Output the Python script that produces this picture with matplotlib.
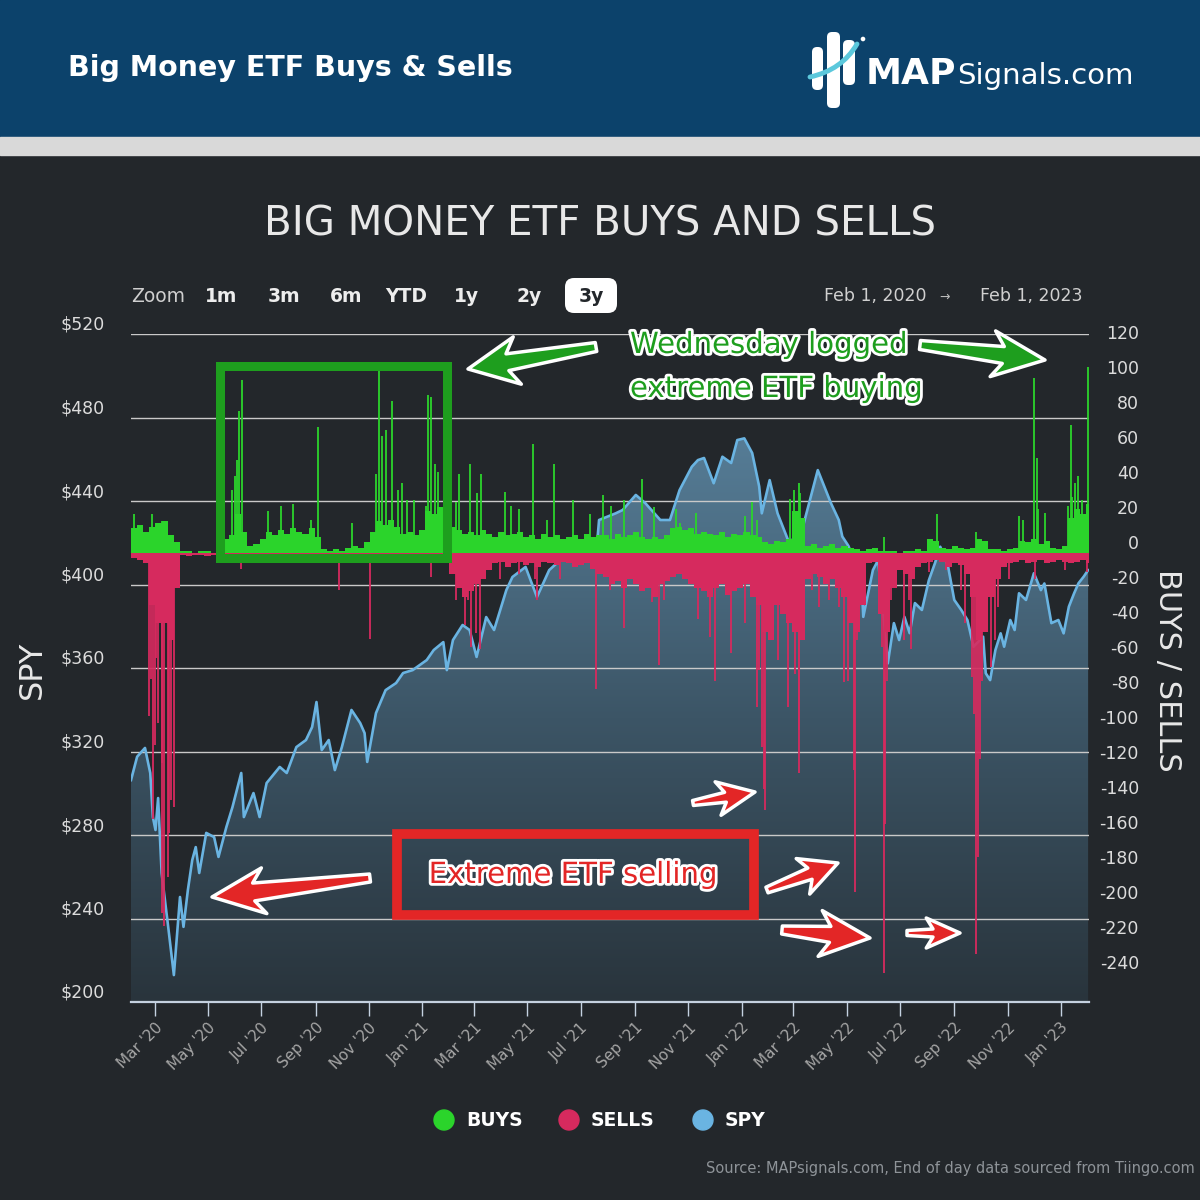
import numpy as np
import pandas as pd
import matplotlib
matplotlib.use("Agg")
import matplotlib.pyplot as plt
import matplotlib.dates as mdates
import matplotlib.patheffects as pe
from matplotlib.patches import Rectangle, FancyBboxPatch, Polygon, Circle, PathPatch
from matplotlib.path import Path
from matplotlib.colors import LinearSegmentedColormap

# -----------------------------
# Data
# -----------------------------
spy_dates = [
    "2020-02-03", "2020-02-10", "2020-02-19", "2020-02-25", "2020-02-28", "2020-03-02",
    "2020-03-05", "2020-03-09", "2020-03-16", "2020-03-23", "2020-03-30", "2020-04-03",
    "2020-04-08", "2020-04-13", "2020-04-17", "2020-04-21", "2020-04-29", "2020-05-08",
    "2020-05-13", "2020-05-22", "2020-05-29", "2020-06-08", "2020-06-11", "2020-06-22",
    "2020-06-29", "2020-07-07", "2020-07-22", "2020-07-30", "2020-08-10", "2020-08-21",
    "2020-08-28", "2020-09-02", "2020-09-08", "2020-09-16", "2020-09-23", "2020-10-01",
    "2020-10-12", "2020-10-22", "2020-10-27", "2020-10-30", "2020-11-09", "2020-11-20",
    "2020-12-02", "2020-12-10", "2020-12-21", "2021-01-06", "2021-01-14", "2021-01-25",
    "2021-01-29", "2021-02-05", "2021-02-16", "2021-02-24", "2021-03-04", "2021-03-15",
    "2021-03-24", "2021-04-07", "2021-04-14", "2021-04-29", "2021-05-12", "2021-05-26",
    "2021-06-14", "2021-07-07", "2021-07-19", "2021-07-22", "2021-08-10", "2021-08-18",
    "2021-09-02", "2021-09-13", "2021-09-30", "2021-10-11", "2021-10-22", "2021-11-05",
    "2021-11-12", "2021-11-19", "2021-11-30", "2021-12-10", "2021-12-20", "2021-12-27",
    "2022-01-04", "2022-01-13", "2022-01-21", "2022-01-24", "2022-02-02", "2022-02-11",
    "2022-02-23", "2022-03-08", "2022-03-29", "2022-04-13", "2022-04-22", "2022-04-26",
    "2022-05-03", "2022-05-18", "2022-05-20", "2022-05-31", "2022-06-06", "2022-06-13",
    "2022-06-17", "2022-06-24", "2022-06-30", "2022-07-06", "2022-07-12", "2022-07-18",
    "2022-07-26", "2022-08-03", "2022-08-10", "2022-08-16", "2022-08-25", "2022-09-01",
    "2022-09-09", "2022-09-16", "2022-09-23", "2022-10-04", "2022-10-07", "2022-10-12",
    "2022-10-18", "2022-10-24", "2022-10-28", "2022-11-04", "2022-11-09", "2022-11-14",
    "2022-11-22", "2022-12-01", "2022-12-09", "2022-12-13", "2022-12-21", "2022-12-29",
    "2023-01-04", "2023-01-10", "2023-01-16", "2023-01-21", "2023-01-27", "2023-02-01",
]
spy_values = [
    306.3, 317.5, 321.7, 309.7, 288.6, 282.4,
    297.7, 261.8, 237.8, 212.9, 250.3, 236.0,
    253.6, 268.0, 274.2, 261.8, 281.0, 279.0,
    269.5, 283.8, 293.4, 309.7, 288.6, 300.1,
    288.6, 304.9, 312.6, 309.7, 322.1, 325.5,
    331.7, 343.7, 320.7, 325.5, 311.1, 322.1,
    339.9, 333.6, 328.8, 315.0, 338.4, 349.4,
    352.8, 357.6, 359.0, 363.8, 368.6, 372.4,
    359.0, 373.4, 380.6, 378.2, 365.3, 384.4,
    378.2, 397.3, 403.6, 408.4, 394.0, 406.9,
    414.1, 419.0, 416.0, 430.9, 434.1, 435.7,
    442.9, 438.9, 430.9, 430.9, 445.2, 456.4,
    459.6, 460.6, 448.5, 461.2, 458.2, 469.2,
    470.0, 463.0, 447.0, 434.1, 450.0, 434.1,
    421.3, 421.3, 454.8, 439.0, 430.9, 423.0,
    418.5, 402.1, 384.5, 406.9, 411.7, 381.3,
    362.2, 381.5, 373.4, 384.5, 376.7, 391.1,
    387.8, 402.1, 410.3, 418.1, 408.5, 392.6,
    387.8, 383.0, 370.2, 375.0, 357.5, 354.2,
    368.6, 376.6, 370.2, 383.0, 378.2, 395.8,
    392.6, 405.4, 397.3, 400.5, 381.5, 383.0,
    376.6, 389.4, 395.8, 400.6, 403.8, 406.9,
]

# weekly typical buy / sell level (weeks starting Mon 2020-02-03)
week_start = "2020-02-03"
buys_weekly = [
    14, 16, 12, 15, 17, 18, 10, 6,
    1, 1, 0, 1, 1, 0, 1,
    8, 10, 22,
    12, 4, 5, 8,
    12, 10, 13, 11, 14, 12,
    11, 14, 9,
    2, 1, 2, 1,
    3, 4, 3, 6, 12,
    18, 16, 19, 15,
    11, 12, 10, 13,
    24, 22, 26, 14,
    15, 13,
    11, 12, 10, 13, 11, 9, 12, 10, 11, 12,
    9, 10, 8, 11, 9, 10, 8,
    9, 10, 8, 11, 9, 10,
    10, 8, 11, 9, 10, 12, 9, 8,
    9, 8, 10, 14, 15,
    13, 14, 11, 12,
    11, 10, 12, 9, 11, 10, 12, 10, 9,
    6, 5, 7, 6, 8,
    24, 20,
    4, 5, 3, 4, 5, 3, 4, 3,
    2, 1, 2, 3, 1,
    1, 1, 0, 1, 1, 2, 1,
    8, 7,
    3, 2, 4, 3, 2, 3,
    8, 7,
    2, 2, 1, 2, 3,
    7, 6, 8, 5, 7,
    3, 2, 4,
    20, 25, 22, 28,
]
sells_weekly = [
    -3, -4, -6,
    -30, -40, -40, -50, -20,
    -1, -2, -1, -1, -2, -1, -1,
    -2, -1, -2, -1, -1, -2, -1, -1, -2, -1,
    -1, -1, -2, -1, -3, -2, -1, -2, -1, -1,
    -2, -1, -3, -2, -1, -2, -1, -2, -1, -1,
    -2, -1, -2, -1, -2, -1, -2,
    -12, -20, -25, -22, -18, -15, -10,
    -6, -5, -8, -6, -5, -7, -6, -8, -5, -6,
    -7, -5, -6, -8, -7, -6, -9, -12,
    -14, -18, -16, -20, -15, -18, -22, -20, -25, -18,
    -16, -14, -12, -15, -18, -20, -22, -25, -20, -18,
    -24, -22, -20, -18, -25, -30,
    -45, -50, -30, -35, -40, -45, -50,
    -15, -12, -14, -18, -15, -20, -25,
    -40, -45, -30,
    -6, -5,
    -35, -45, -20,
    -10, -12, -15, -8, -6, -5, -4, -5, -8, -6, -7, -12, -25,
    -50, -45, -25,
    -15, -8, -6, -5, -4, -6, -5, -4, -6, -5, -4, -5, -6, -5, -4, -6,
]

# single-day spikes
buy_spike_dates = [
    "2020-02-07", "2020-02-27", "2020-03-09",
    "2020-05-29", "2020-06-01", "2020-06-03", "2020-06-05", "2020-06-09", "2020-07-09",
    "2020-07-24", "2020-08-06", "2020-08-27", "2020-09-04", "2020-10-13", "2020-11-09",
    "2020-11-12", "2020-11-16", "2020-11-20", "2020-11-27", "2020-12-04", "2020-12-09",
    "2020-12-15", "2020-12-23", "2021-01-05", "2021-01-08", "2021-01-11", "2021-01-15",
    "2021-01-19", "2021-02-08", "2021-02-12", "2021-02-24", "2021-03-05", "2021-03-09",
    "2021-04-05", "2021-04-12", "2021-04-22", "2021-05-07", "2021-05-24", "2021-06-01",
    "2021-06-22", "2021-07-12", "2021-07-26", "2021-08-05", "2021-08-20", "2021-09-09",
    "2021-09-23", "2021-10-18", "2021-10-22", "2021-11-10", "2022-01-05", "2022-01-13",
    "2022-01-18", "2022-02-25", "2022-03-02", "2022-03-07", "2022-03-09", "2022-06-13",
    "2022-08-12", "2022-09-26", "2022-11-14", "2022-11-18", "2022-12-01", "2022-12-05",
    "2022-12-06", "2022-12-14", "2023-01-09", "2023-01-12", "2023-01-13", "2023-01-17",
    "2023-01-20", "2023-01-25", "2023-02-01",
]
buy_spike_values = [
    22, 22, 18,
    36, 44, 53, 81, 99, 24,
    27, 28, 19, 72, 17, 45,
    104, 67, 70, 87, 36, 40,
    30, 30, 27, 90, 89, 51,
    46, 29, 45, 51, 34, 45,
    35, 27, 25, 62, 19, 51,
    30, 22, 33, 27, 30, 42,
    26, 25, 17, 23, 21, 29,
    19, 31, 36, 40, 34, 9,
    22, 12, 21, 19, 100, 54,
    25, 23, 27, 73, 32, 40,
    44, 30, 106,
]
sell_spike_dates = [
    "2020-02-24", "2020-02-26", "2020-02-28", "2020-03-02", "2020-03-03", "2020-03-05",
    "2020-03-09", "2020-03-10", "2020-03-12", "2020-03-16", "2020-03-18", "2020-03-20",
    "2020-03-23", "2020-06-08", "2020-09-28", "2020-11-02", "2021-01-11", "2021-02-09",
    "2021-02-16", "2021-02-19", "2021-02-22", "2021-02-26", "2021-03-03", "2021-03-08",
    "2021-03-31", "2021-04-22", "2021-05-10", "2021-05-12", "2021-06-07", "2021-07-19",
    "2021-08-03", "2021-08-19", "2021-09-07", "2021-09-20", "2021-09-28", "2021-10-04",
    "2021-10-27", "2021-11-12", "2021-11-26", "2021-12-01", "2021-12-20", "2022-01-05",
    "2022-01-19", "2022-01-21", "2022-01-24", "2022-01-27", "2022-01-28", "2022-02-04",
    "2022-02-11", "2022-02-23", "2022-03-03", "2022-03-07", "2022-03-08", "2022-03-22",
    "2022-03-30", "2022-04-11", "2022-04-22", "2022-04-28", "2022-05-02", "2022-05-09",
    "2022-05-11", "2022-05-13", "2022-06-10", "2022-06-13", "2022-06-14", "2022-06-16",
    "2022-06-21", "2022-07-05", "2022-07-11", "2022-07-14", "2022-08-03", "2022-08-22",
    "2022-09-09", "2022-09-13", "2022-09-21", "2022-09-23", "2022-09-26", "2022-09-28",
    "2022-09-30", "2022-10-03", "2022-10-06", "2022-10-13", "2022-10-17", "2022-10-21",
    "2022-11-02", "2022-12-02", "2023-01-06", "2023-01-31",
]
sell_spike_values = [
    -93, -72, -152, -110, -60, -97,
    -206, -120, -213, -185, -160, -141,
    -145, -9, -21, -49, -14, -27,
    -17, -41, -27, -54, -46, -55,
    -15, -12, -15, -27, -15, -78,
    -21, -43, -18, -28, -64, -27,
    -15, -38, -48, -73, -57, -40,
    -88, -67, -111, -135, -147, -50,
    -61, -88, -69, -126, -101, -21,
    -31, -27, -31, -74, -73, -124,
    -194, -50, -54, -240, -155, -73,
    -27, -50, -27, -55, -11, -10,
    -21, -40, -71, -92, -229, -174,
    -118, -73, -31, -65, -50, -31,
    -15, -15, -10, -11,
]

spy_ticks = [200, 240, 280, 320, 360, 400, 440, 480, 520]
flow_ticks = [120, 100, 80, 60, 40, 20, 0, -20, -40, -60, -80, -100, -120,
              -140, -160, -180, -200, -220, -240]
legend_labels = ["BUYS", "SELLS", "SPY"]
zoom_buttons = ["1m", "3m", "6m", "YTD", "1y", "2y", "3y"]

# -----------------------------
# Colours
# -----------------------------
BG = "#23272B"
HEADER = "#0C426B"
GREEN = "#2BD42B"
RED = "#D62A5E"
BLUE = "#6AB4E2"
ANN_GREEN = "#1E9E1E"
ANN_RED = "#E32626"

fig = plt.figure(figsize=(12, 12), dpi=100, facecolor=BG)

# -----------------------------
# Main chart (SPY on left axis)
# -----------------------------
ax = fig.add_axes([131 / 1200, 198 / 1200, 958 / 1200, 668 / 1200])
ax.set_facecolor(BG)

x_start = pd.Timestamp("2020-02-03")
x_end = pd.Timestamp("2023-02-02")
sx = pd.to_datetime(spy_dates)
sy = np.array(spy_values)

area = ax.fill_between(sx, sy, 200, facecolor="none", edgecolor="none")
grad = np.linspace(0, 1, 256).reshape(-1, 1)
cmap = LinearSegmentedColormap.from_list("spyfill", ["#29343C", "#3C5566", "#567D97"])
im = ax.imshow(grad, extent=[mdates.date2num(x_start), mdates.date2num(x_end), 200, 472],
               origin="lower", aspect="auto", cmap=cmap, zorder=1)
im.set_clip_path(area.get_paths()[0], transform=ax.transData)
ax.plot(sx, sy, color=BLUE, lw=1.9, zorder=3, solid_joinstyle="round")

ax.set_xlim(x_start, x_end)
ax.set_ylim(200, 520)
ax.set_yticks(spy_ticks)
ax.set_yticklabels([f"${t}" for t in spy_ticks], va="bottom")
ax.tick_params(axis="y", length=0, pad=19, labelsize=12.5, labelcolor="#DCDCDC")
ax.yaxis.grid(True, color="#C9C9C9", lw=1.0)
ax.set_axisbelow(False)
for s in ["left", "right", "top"]:
    ax.spines[s].set_visible(False)
ax.spines["bottom"].set_color("#C5D2E2")
ax.spines["bottom"].set_linewidth(1.6)

ax.xaxis.set_major_locator(mdates.MonthLocator(bymonth=[1, 3, 5, 7, 9, 11]))
ax.xaxis.set_major_formatter(mdates.DateFormatter("%b '%y"))
ax.tick_params(axis="x", length=10, width=1, color="#C5D2E2", labelcolor="#A5A5A5",
               labelsize=11, pad=3)
for lbl in ax.get_xticklabels():
    lbl.set_rotation(45)
    lbl.set_ha("right")
    lbl.set_rotation_mode("anchor")

# -----------------------------
# Buys / sells on right axis
# -----------------------------
ax2 = ax.twinx()
ax2.set_ylim(-256.6, 125.1)
weeks_b = pd.date_range(week_start, periods=len(buys_weekly), freq="7D")
weeks_s = pd.date_range(week_start, periods=len(sells_weekly), freq="7D")
ax2.bar(weeks_b, buys_weekly, width=7, align="edge", color=GREEN, lw=0, zorder=2)
ax2.bar(weeks_s, sells_weekly, width=7, align="edge", color=RED, lw=0, zorder=2)
ax2.vlines(pd.to_datetime(buy_spike_dates), 0, buy_spike_values, color=GREEN, lw=1.3, zorder=3)
ax2.vlines(pd.to_datetime(sell_spike_dates), 0, sell_spike_values, color=RED, lw=1.3, zorder=3)
ax2.set_xlim(x_start, x_end)
ax2.set_yticks(flow_ticks)
ax2.set_yticklabels([str(t) for t in flow_ticks], ha="right", va="bottom")
ax2.tick_params(axis="y", length=0, pad=36, labelsize=12.5, labelcolor="#DCDCDC")
for s in ax2.spines.values():
    s.set_visible(False)

# -----------------------------
# Overlay in pixel coordinates
# -----------------------------
ov = fig.add_axes([0, 0, 1, 1], zorder=10)
ov.set_xlim(0, 1200)
ov.set_ylim(1200, 0)
ov.axis("off")

ov.add_patch(Rectangle((0, 0), 1200, 137, color=HEADER))
ov.add_patch(Rectangle((0, 137), 1200, 18, color="#D9D9D9"))
ov.text(68, 68, "Big Money ETF Buys & Sells", color="white", fontsize=20.5,
        fontweight="bold", va="center", ha="left")

# logo
for (lx, ly, lw_, lh) in [(812, 47, 11, 43), (827, 32, 13, 76), (843, 40, 12, 45)]:
    ov.add_patch(FancyBboxPatch((lx, ly), lw_, lh, boxstyle="round,pad=0,rounding_size=5",
                                fc="white", ec="none"))
swoosh = Path([(810, 77), (842, 70), (857, 44)], [Path.MOVETO, Path.CURVE3, Path.CURVE3])
ov.add_patch(PathPatch(swoosh, fc="none", ec="#5BC8DC", lw=3.5, capstyle="round"))
ov.add_patch(Circle((863, 39), 1.6, color="white"))
ov.text(866, 84, "MAP", color="white", fontsize=26, fontweight="bold", va="baseline")
ov.text(957, 84, "Signals.com", color="white", fontsize=21, va="baseline")

# chart title and range selector
ov.text(600, 224, "BIG MONEY ETF BUYS AND SELLS", ha="center", va="center",
        fontsize=29, color="#E8E8E8")
ov.text(131, 296, "Zoom", fontsize=13.5, color="#CFCFCF", va="center")
ov.add_patch(FancyBboxPatch((565, 278), 52, 35, boxstyle="round,pad=0,rounding_size=9",
                            fc="white", ec="none"))
for lab, cx in zip(zoom_buttons, [221, 284, 346, 406, 466, 529, 591]):
    ov.text(cx, 296, lab, fontsize=13.5, fontweight="bold", ha="center", va="center",
            color="#23272B" if lab == "3y" else "#EDEDED")
ov.text(926, 296, "Feb 1, 2020", fontsize=12.5, ha="right", va="center", color="#D0D0D0")
ov.text(945, 297, "\u2192", fontsize=9, ha="center", va="center", color="#BBBBBB")
ov.text(1082, 296, "Feb 1, 2023", fontsize=12.5, ha="right", va="center", color="#D0D0D0")

# axis titles
ov.text(32, 670, "SPY", rotation=90, fontsize=23, color="#E8E8E8", ha="center", va="center")
ov.text(1168, 670, "BUYS / SELLS", rotation=-90, fontsize=22, color="#E8E8E8",
        ha="center", va="center")

# legend
for lab, col, cx in zip(legend_labels, [GREEN, RED, BLUE], [444, 569, 703]):
    ov.add_patch(Circle((cx, 1120), 10, color=col))
    ov.text(cx + 22, 1121, lab, fontsize=13.5, fontweight="bold", color="white", va="center")

ov.text(1195, 1168, "Source: MAPsignals.com, End of day data sourced from Tiingo.com",
        ha="right", va="center", fontsize=10.5, color="#8E9398")


# -----------------------------
# Annotations
# -----------------------------
def arrow(x0, y0, x1, y1, w0, w1, hw, hl, color):
    d = np.array([x1 - x0, y1 - y0], float)
    u = d / np.hypot(*d)
    n = np.array([-u[1], u[0]])
    tail = np.array([x0, y0], float)
    tip = np.array([x1, y1], float)
    base = tip - u * hl
    back = base - u * hl * 0.25
    pts = [tail + n * w0 / 2, base + n * w1 / 2, back + n * hw / 2, tip,
           back - n * hw / 2, base - n * w1 / 2, tail - n * w0 / 2]
    ov.add_patch(Polygon(pts, closed=True, fc=color, ec="white", lw=2.5, joinstyle="round"))


ov.add_patch(Rectangle((220, 366), 227, 192, fill=False, ec=ANN_GREEN, lw=6.5))
ov.add_patch(Rectangle((397, 834), 357, 81, fill=False, ec=ANN_RED, lw=7))

arrow(596, 347, 468, 369, 9, 17, 48, 40, ANN_GREEN)
arrow(920, 345, 1045, 360, 9, 17, 46, 42, ANN_GREEN)
arrow(370, 878, 212, 897, 8, 18, 46, 42, ANN_RED)
arrow(693, 803, 755, 792, 5, 10, 34, 30, ANN_RED)
arrow(767, 890, 838, 863, 6, 12, 38, 30, ANN_RED)
arrow(782, 930, 870, 938, 8, 16, 46, 40, ANN_RED)
arrow(907, 933, 960, 933, 5, 8, 30, 27, ANN_RED)

outline = [pe.Stroke(linewidth=4, foreground="white"), pe.Normal()]
ov.text(630, 345, "Wednesday logged", fontsize=21, color=ANN_GREEN, va="center",
        path_effects=outline)
ov.text(630, 389, "extreme ETF buying", fontsize=21, color=ANN_GREEN, va="center",
        path_effects=outline)
ov.text(573, 875, "Extreme ETF selling", fontsize=21, color=ANN_RED, ha="center",
        va="center", path_effects=outline)

fig.savefig("out.png", dpi=100, facecolor=BG)
